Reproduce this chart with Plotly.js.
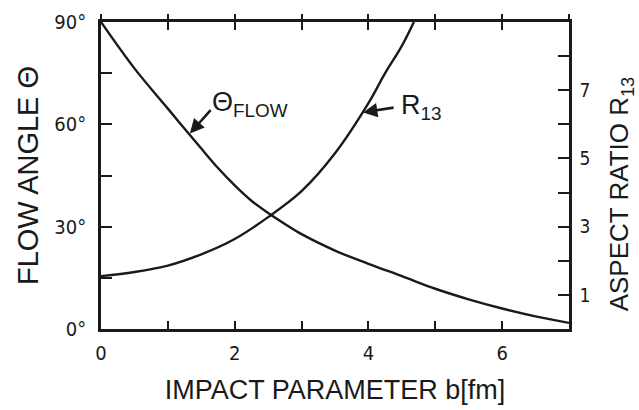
<!DOCTYPE html>
<html>
<head>
<meta charset="utf-8">
<script src="https://cdn.plot.ly/plotly-3.0.1.min.js"></script>
<style>html,body{margin:0;padding:0;background:#fff;}#chart{width:639px;height:410px;}</style>
</head>
<body>
<div id="chart"></div>
<script>
// Impact parameter b [fm] for the flow angle curve
const bTheta = [0, 0.5, 1, 1.5, 1.75, 2, 2.25, 2.5, 2.75, 3, 3.5, 4, 4.5, 5, 5.5, 6, 6.5, 7];
// Flow angle theta (degrees)
const thetaFlow = [90, 76.4, 64.6, 52.9, 47.2, 42.1, 37.6, 34.0, 30.8, 27.8, 23.0, 19.1, 15.5, 11.8, 8.7, 6.0, 3.7, 1.8];
// Impact parameter b [fm] for the aspect ratio curve
const bR = [0, 0.5, 1, 1.5, 2, 2.5, 3, 3.5, 4, 4.25, 4.5, 4.68];
// Aspect ratio R13
const r13 = [1.55, 1.67, 1.86, 2.19, 2.64, 3.28, 4.04, 5.15, 6.62, 7.5, 8.3, 9.0];

const leftTickVals = [0, 30, 60, 90];
const leftTickText = ["0°", "30°", "60°", "90°"];
const rightTickVals = [1, 3, 5, 7];
const rightTickText = ["1", "3", "5", "7"];
const xTickVals = [0, 2, 4, 6];
const xTickText = ["0", "2", "4", "6"];

const FT = "Liberation Sans Narrow, DejaVu Sans Condensed, Arial Narrow, sans-serif";
const FL = "Liberation Sans, Arial, sans-serif";
const INK = "#1a1a1a";

const traces = [
  {x: bTheta, y: thetaFlow, xaxis: "x", yaxis: "y", mode: "lines",
   line: {color: INK, width: 2.4, shape: "spline", smoothing: 1}, hoverinfo: "skip", showlegend: false},
  {x: bR, y: r13, xaxis: "x", yaxis: "y2", mode: "lines",
   line: {color: INK, width: 2.4, shape: "spline", smoothing: 1}, hoverinfo: "skip", showlegend: false},
  {x: [null], y: [null], xaxis: "x2", yaxis: "y", mode: "lines", hoverinfo: "skip", showlegend: false}
];

const layout = {
  width: 639, height: 410,
  margin: {l: 101, r: 70, t: 22, b: 81},
  paper_bgcolor: "#ffffff", plot_bgcolor: "#ffffff",
  showlegend: false,
  xaxis: {
    range: [0, 7], tickvals: xTickVals, ticktext: xTickText,
    ticks: "inside", ticklen: 8, tickwidth: 2, tickcolor: INK,
    minor: {dtick: 1, tick0: 0, ticks: "inside", ticklen: 8, tickwidth: 2, tickcolor: INK, showgrid: false},
    showline: true, linewidth: 2.8, linecolor: INK, mirror: "ticks",
    showgrid: false, zeroline: false, ticklabelstandoff: 4,
    tickfont: {family: FT, size: 20, color: INK},
    title: {text: "IMPACT PARAMETER b[fm]", font: {family: FL, size: 27, color: INK}, standoff: 17}
  },
  xaxis2: {
    range: [0, 7], overlaying: "x", side: "top", tickvals: xTickVals,
    ticks: "outside", ticklen: 7, tickwidth: 2, tickcolor: INK,
    minor: {dtick: 1, tick0: 0, ticks: "outside", ticklen: 7, tickwidth: 2, tickcolor: INK, showgrid: false},
    showticklabels: false, showline: false, showgrid: false, zeroline: false
  },
  yaxis: {
    range: [0, 90], tickvals: leftTickVals, ticktext: leftTickText,
    ticks: "inside", ticklen: 11, tickwidth: 2, tickcolor: INK,
    minor: {dtick: 15, tick0: 0, ticks: "inside", ticklen: 11, tickwidth: 2, tickcolor: INK, showgrid: false},
    showline: true, linewidth: 2.8, linecolor: INK, mirror: false,
    showgrid: false, zeroline: false, ticklabelstandoff: 8,
    tickfont: {family: FT, size: 20, color: INK},
    title: {text: "FLOW ANGLE Θ", font: {family: FL, size: 29, color: INK}, standoff: 8}
  },
  yaxis2: {
    range: [0, 9], overlaying: "y", side: "right", tickvals: rightTickVals, ticktext: rightTickText,
    ticks: "inside", ticklen: 11, tickwidth: 2, tickcolor: INK,
    minor: {dtick: 1, tick0: 0, ticks: "inside", ticklen: 11, tickwidth: 2, tickcolor: INK, showgrid: false},
    showline: true, linewidth: 2.8, linecolor: INK,
    showgrid: false, zeroline: false, ticklabelstandoff: 4,
    tickfont: {family: FT, size: 19, color: INK}
  },
  annotations: [
    {x: 1.112, y: 0.44, xref: "paper", yref: "paper", text: "ASPECT RATIO R<sub>13</sub>",
     textangle: -90, showarrow: false, xanchor: "center", yanchor: "middle",
     font: {family: FL, size: 26, color: INK}},
    {x: 2.23, y: 66, xref: "x", yref: "y", text: "Θ<sub>FLOW</sub>", showarrow: false,
     font: {family: FL, size: 27, color: INK}},
    {x: 1.33, y: 57.3, xref: "x", yref: "y", text: "", showarrow: true,
     ax: 22, ay: -25, arrowhead: 2, arrowsize: 1.1, arrowwidth: 2.6, arrowcolor: INK, standoff: 0},
    {x: 4.8, y: 65, xref: "x", yref: "y", text: "R<sub>13</sub>", showarrow: false,
     font: {family: FL, size: 27, color: INK}},
    {x: 3.92, y: 6.35, xref: "x", yref: "y2", text: "", showarrow: true,
     ax: 32, ay: -5, arrowhead: 2, arrowsize: 1.1, arrowwidth: 2.6, arrowcolor: INK, standoff: 0}
  ]
};

Plotly.newPlot("chart", traces, layout, {staticPlot: true, displayModeBar: false});
</script>
</body>
</html>
